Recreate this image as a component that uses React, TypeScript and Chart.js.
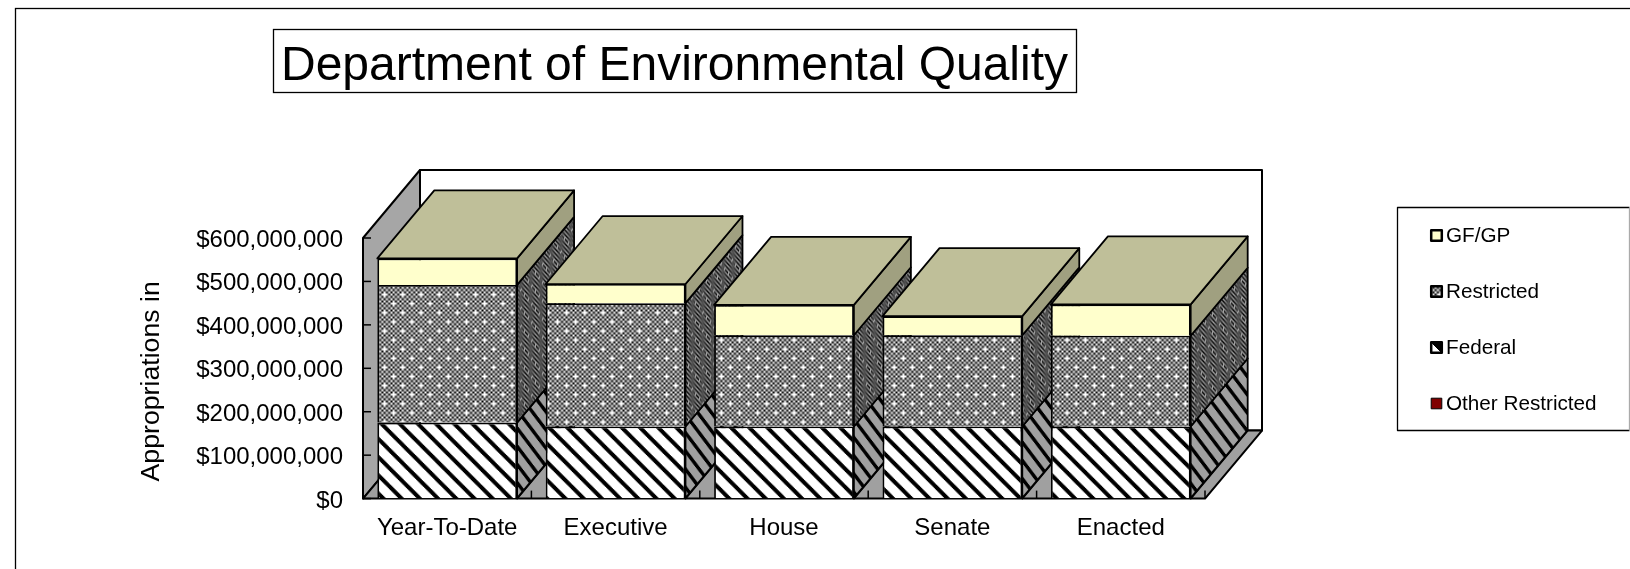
import React, { useEffect, useRef } from "react";
import { Chart, registerables } from "chart.js";

Chart.register(...registerables);

const titleText = "Department of Environmental Quality";
const axisTitle = "Appropriations in";
const categories = ["Year-To-Date", "Executive", "House", "Senate", "Enacted"];
const otherRestricted = [1000000, 1000000, 1000000, 1000000, 1000000];
const federal = [174000000, 165000000, 165000000, 165000000, 165000000];
const restricted = [317000000, 284000000, 210000000, 210000000, 209000000];
const gfgp = [61000000, 44000000, 70000000, 44000000, 72000000];
const tickStep = 100000000;
const axisMax = 600000000;

const FONT = '"Liberation Sans", Arial, sans-serif';
const DEPTH_X = 57;
const DEPTH_Y = 68;
const BAR_DX = 57;
const BAR_DY = 68;

function makeTile(n: number, bits: (x: number, y: number) => boolean, dark: string, light: string) {
  const c = document.createElement("canvas");
  c.width = n;
  c.height = n;
  const g = c.getContext("2d")!;
  g.fillStyle = light;
  g.fillRect(0, 0, n, n);
  g.fillStyle = dark;
  for (let y = 0; y < n; y++) for (let x = 0; x < n; x++) if (bits(x, y)) g.fillRect(x, y, 1, 1);
  return c;
}
const stripes = (x: number, y: number) => ((x - y + 32) % 16) < 5;
const dotted = (x: number, y: number) => {
  if ((x === 0 && y === 0) || (x === 4 && y === 4)) return false;
  return (x + y) % 2 === 0;
};

function makePattern(ctx: CanvasRenderingContext2D, tile: HTMLCanvasElement, m: number[]) {
  const p = ctx.createPattern(tile, "repeat")!;
  p.setTransform(new DOMMatrix(m));
  return p;
}

export default function App() {
  const ref = useRef<HTMLCanvasElement>(null);
  useEffect(() => {
    document.body.style.margin = "0";
    const canvas = ref.current!;
    const ctx = canvas.getContext("2d")!;
    const S = 2.275;
    const H = S / 2;
    const patFederal = makePattern(ctx, makeTile(16, stripes, "#000", "#fff"), [H, 0, 0, H, 10, 0]);
    const patRestricted = makePattern(ctx, makeTile(8, dotted, "#000", "#fff"), [S, 0, 0, S, 10.3, 11.3]);
    const sideFederal = makePattern(ctx, makeTile(16, stripes, "#000", "#a0a0a0"), [H * 0.4, -H * 0.47, 0, H, 0, 0]);
    const sideRestricted = makePattern(ctx, makeTile(8, dotted, "#000", "#a0a0a0"), [S * 0.4, -S * 0.47, 0, S, 0, 0]);

    const poly = (g: CanvasRenderingContext2D, pts: number[][], fill: any, lw = 2) => {
      g.beginPath();
      pts.forEach((p, i) => (i ? g.lineTo(p[0], p[1]) : g.moveTo(p[0], p[1])));
      g.closePath();
      g.fillStyle = fill;
      g.fill();
      g.lineWidth = lw;
      g.strokeStyle = "#000";
      g.lineJoin = "round";
      g.stroke();
    };

    const scene = {
      id: "scene",
      afterLayout(chart: any) {
        const t = chart.titleBlock;
        t.left = 273;
        t.right = 1076;
        t.top = 38;
        t.bottom = 96;
        const y = chart.scales.y;
        if (!y.__wrapped) {
          const origTitle = y.drawTitle;
          y.drawTitle = function () {
            const g = this.ctx;
            g.save();
            g.translate(0, 13);
            origTitle.call(this);
            g.restore();
          };
          const origLabels = y.drawLabels;
          y.drawLabels = function (area: any) {
            const g = this.ctx;
            g.save();
            g.translate(0, 2.3);
            origLabels.call(this, area);
            g.restore();
          };
          y.__wrapped = true;
        }
      },
      beforeDraw(chart: any) {
        const g = chart.ctx;
        const { x, y } = chart.scales;
        const L = x.left, R = x.right, B = y.bottom, T = y.top;
        g.save();
        g.fillStyle = "#fff";
        g.fillRect(0, 0, 1630, 569);
        g.strokeStyle = "#000";
        g.lineWidth = 1.3;
        g.strokeRect(15.5, 8.5, 1700, 700);
        g.strokeRect(273.5, 29.5, 803, 63);
        // back wall, left wall, floor
        poly(g, [[L + DEPTH_X, T - DEPTH_Y], [R + DEPTH_X, T - DEPTH_Y], [R + DEPTH_X, B - DEPTH_Y], [L + DEPTH_X, B - DEPTH_Y]], "#fff");
        poly(g, [[L, T], [L + DEPTH_X, T - DEPTH_Y], [L + DEPTH_X, B - DEPTH_Y], [L, B]], "#a6a6a6");
        poly(g, [[L, B], [L + DEPTH_X, B - DEPTH_Y], [R + DEPTH_X, B - DEPTH_Y], [R, B]], "#a0a0a0");
        g.lineWidth = 1.5;
        g.strokeStyle = "#000";
        for (const tk of y.ticks) {
          const py = y.getPixelForValue(tk.value);
          g.beginPath();
          g.moveTo(L, py);
          g.lineTo(L + 8, py);
          g.stroke();
        }
        for (let i = 0; i <= categories.length; i++) {
          const px = L + ((R - L) * i) / categories.length;
          g.beginPath();
          g.moveTo(px, B);
          g.lineTo(px, B - 8);
          g.stroke();
        }
        // legend
        g.lineWidth = 1.3;
        g.fillStyle = "#fff";
        g.fillRect(1397.5, 207.5, 232, 223);
        g.strokeStyle = "#000";
        g.beginPath();
        g.moveTo(1629.5, 207.5);
        g.lineTo(1397.5, 207.5);
        g.lineTo(1397.5, 430.5);
        g.lineTo(1629.5, 430.5);
        g.stroke();
        g.strokeStyle = "#aaa";
        g.beginPath();
        g.moveTo(1629.5, 207.5);
        g.lineTo(1629.5, 430.5);
        g.stroke();
        const items = [
          { label: "GF/GP", fill: "#ffffcc" },
          { label: "Restricted", fill: patRestricted },
          { label: "Federal", fill: "#fff" },
          { label: "Other Restricted", fill: "#800000" },
        ];
        items.forEach((it, i) => {
          const cy = 235.5 + i * 56;
          const l = 1431.2, r = 1441.8, t = cy - 5.3, b = cy + 5.3;
          poly(g, [[l, t], [r, t], [r, b], [l, b]], it.fill, i === 3 ? 1 : 2.5);
          if (i === 2) poly(g, [[l, t], [r, t], [r, b]], "#000", 1);
          g.fillStyle = "#000";
          g.font = `20.7px ${FONT}`;
          g.textAlign = "left";
          g.textBaseline = "middle";
          g.fillText(it.label, 1446, cy + 1);
        });
        g.restore();
      },
      beforeDatasetsDraw(chart: any) {
        const g = chart.ctx;
        g.save();
        const n = categories.length;
        const sideFills = [sideFederal, sideFederal, sideRestricted, "#a0a080"];
        for (let j = 0; j < n; j++) {
          let topEl: any = null;
          chart.data.datasets.forEach((_: any, d: number) => {
            const el = chart.getDatasetMeta(d).data[j];
            const r = el.x + el.width / 2;
            poly(g, [[r, el.base], [r + BAR_DX, el.base - BAR_DY], [r + BAR_DX, el.y - BAR_DY], [r, el.y]], sideFills[d], 1.8);
            topEl = el;
          });
          const l = topEl.x - topEl.width / 2;
          const r = topEl.x + topEl.width / 2;
          const t = topEl.y;
          poly(g, [[l, t], [l + BAR_DX, t - BAR_DY], [r + BAR_DX, t - BAR_DY], [r, t]], "#bfbf99", 1.8);
        }
        g.restore();
      },
    };

    const chart = new Chart(canvas, {
      type: "bar",
      data: {
        labels: categories,
        datasets: [
          { label: "Other Restricted", data: otherRestricted, backgroundColor: "#800000" },
          { label: "Federal", data: federal, backgroundColor: patFederal as any },
          { label: "Restricted", data: restricted, backgroundColor: patRestricted as any },
          { label: "GF/GP", data: gfgp, backgroundColor: "#ffffcc" },
        ].map((d) => ({ ...d, borderColor: "#000", borderWidth: 1.8, barPercentage: 0.83, categoryPercentage: 1 })),
      },
      options: {
        animation: false,
        responsive: false,
        devicePixelRatio: 1,
        layout: { padding: { left: 130, top: 180.4, right: 425, bottom: 10.4 } },
        plugins: {
          legend: { display: false },
          tooltip: { enabled: false },
          title: {
            display: true,
            text: titleText,
            color: "#000",
            padding: 0,
            font: { family: FONT, size: 48, weight: "normal" },
          },
        },
        scales: {
          x: {
            stacked: true,
            grid: { display: false },
            border: { display: false },
            afterFit: (s: any) => { s.height = 60; },
            ticks: { color: "#000", padding: 7, maxRotation: 0, autoSkip: false, font: { family: FONT, size: 24 } },
          },
          y: {
            stacked: true,
            min: 0,
            max: axisMax,
            grid: { display: false },
            border: { display: false },
            afterFit: (s: any) => { s.width = 233; },
            title: {
              display: true,
              text: axisTitle,
              color: "#000",
              padding: { top: 6, bottom: 0 },
              font: { family: FONT, size: 26.7, weight: "normal" },
            },
            ticks: {
              color: "#000",
              padding: 12,
              stepSize: tickStep,
              font: { family: FONT, size: 24 },
              callback: (v: any) => "$" + Number(v).toLocaleString("en-US"),
            },
          },
        },
      } as any,
      plugins: [scene],
    });
    return () => chart.destroy();
  }, []);
  return <canvas ref={ref} width={1630} height={569} style={{ display: "block", width: 1630, height: 569 }} />;
}
